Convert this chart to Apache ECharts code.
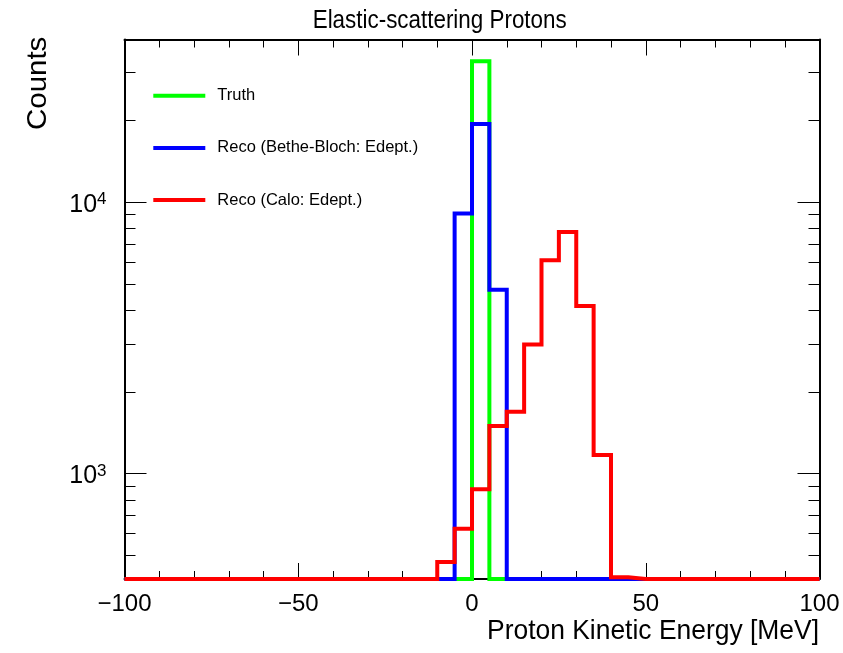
<!DOCTYPE html>
<html>
<head>
<meta charset="utf-8">
<script src="https://cdn.jsdelivr.net/npm/echarts@6/dist/echarts.min.js"></script>
<style>html,body{margin:0;padding:0;background:#fff}#c{width:843px;height:653px}</style>
</head>
<body>
<div id="c"></div>
<script>
// ---- data ----
const binEdges = [-100,-95,-90,-85,-80,-75,-70,-65,-60,-55,-50,-45,-40,-35,-30,-25,-20,-15,-10,-5,
                  0,5,10,15,20,25,30,35,40,45,50,55,60,65,70,75,80,85,90,95,100];
const truthCounts = [0,0,0,0,0,0,0,0,0,0,0,0,0,0,0,0,0,0,0,0,
                     33000,0,0,0,0,0,0,0,0,0,0,0,0,0,0,0,0,0,0,0];
const betheCounts = [0,0,0,0,0,0,0,0,0,0,0,0,0,0,0,0,0,0,0,9080,
                     19400,4750,0,0,0,0,0,0,0,0,0,0,0,0,0,0,0,0,0,0];
const caloCounts  = [0,0,0,0,0,0,0,0,0,0,0,0,0,0,0,0,0,0,472,626,
                     875,1496,1688,2990,6110,7750,4140,1170,415,0,0,0,0,0,0,0,0,0,0,0];
const seriesNames = ['Truth', 'Reco (Bethe-Bloch: Edept.)', 'Reco (Calo: Edept.)'];
const seriesColors = ['#00ff00', '#0000ff', '#ff0000'];
const xTickLabels = [-100, -50, 0, 50, 100];
const yMajorTicks = [1000, 10000];
const yMinorTicks = [500,600,700,800,900,2000,3000,4000,5000,6000,7000,8000,9000,20000,30000];
const titleText = 'Elastic-scattering Protons';
const xTitle = 'Proton Kinetic Energy [MeV]';
const yTitle = 'Counts';
const yMin = 408.7, yMax = 39700;

// ---- fonts ----
const FONT = "'Liberation Sans', Arial, sans-serif";
const cv = document.createElement('canvas').getContext('2d');
function tw(text, size) { cv.font = size + 'px ' + FONT; return cv.measureText(text).width; }
// condense factor so that text of given size spans target width
function squeeze(text, size, target) { return target / tw(text, size); }

// ---- build ----
function shown(v) { return v > yMin ? v : yMin; }
function steps(counts) {
  const d = [];
  for (let i = 0; i < counts.length; i++) d.push([binEdges[i], shown(counts[i])]);
  d.push([binEdges[counts.length], shown(counts[counts.length - 1])]);
  return d;
}
const allCounts = [truthCounts, betheCounts, caloCounts];

const black = '#000';
function xAx(pos, interval, len, labels, line) {
  return {
    type: 'value', position: pos, min: -100, max: 100, interval: interval,
    axisLine: {show: line, onZero: false, lineStyle: {color: black, width: 2}},
    axisTick: {show: true, inside: true, length: len, lineStyle: {color: black, width: 1}},
    axisLabel: labels ? {
      show: true, customValues: xTickLabels, margin: 25.5, verticalAlign: 'middle',
      fontFamily: FONT, fontSize: 24, color: black,
      formatter: v => v < 0 ? '\u2212' + (-v) : '' + v
    } : {show: false},
    splitLine: {show: false}
  };
}
function yAx(pos, vals, len, labels, line) {
  return {
    type: 'log', logBase: 10, position: pos, min: yMin, max: yMax,
    axisLine: {show: line, onZero: false, lineStyle: {color: black, width: 2}},
    axisTick: {show: true, inside: true, length: len, customValues: vals, lineStyle: {color: black, width: 1}},
    axisLabel: labels ? {
      show: true, customValues: vals, margin: 18, padding: [6, 0, 0, 0],
      formatter: v => '{b|10}{s|' + Math.round(Math.log10(v)) + '}',
      rich: {
        b: {fontFamily: FONT, fontSize: 25, lineHeight: 28, color: black},
        s: {fontFamily: FONT, fontSize: 17, lineHeight: 15, verticalAlign: 'top', color: black}
      }
    } : {show: false},
    splitLine: {show: false}
  };
}

const titleFs = 25.6, xTitleFs = 28, yTitleFs = 28;

const chart = echarts.init(document.getElementById('c'), null, {renderer: 'canvas'});
chart.setOption({
  animation: false,
  backgroundColor: '#fff',
  grid: {left: 124.5, right: 23.5, top: 39.5, bottom: 74},
  xAxis: [
    xAx('bottom', 50, 16, true, true),
    xAx('bottom', 10, 8, false, false),
    xAx('top', 50, 16, false, true),
    xAx('top', 10, 8, false, false)
  ],
  yAxis: [
    yAx('left', yMajorTicks, 22, true, true),
    yAx('left', yMinorTicks, 11, false, false),
    yAx('right', yMajorTicks, 22, false, true),
    yAx('right', yMinorTicks, 11, false, false)
  ],
  legend: {
    orient: 'vertical', left: 153.3, top: 85.7, padding: 0, itemGap: 32.2,
    itemWidth: 52, itemHeight: 4, icon: 'rect', selectedMode: false,
    data: seriesNames,
    textStyle: {fontFamily: FONT, fontSize: 16.5, color: black, lineHeight: 20, padding: [0, 0, 0, 7]}
  },
  graphic: [
    {type: 'text', x: 439.7, y: 21, silent: true, scaleX: squeeze(titleText, titleFs, 254),
     style: {text: titleText, fontFamily: FONT, fontSize: titleFs, fill: black,
             align: 'center', verticalAlign: 'middle', textAlign: 'center', textVerticalAlign: 'middle'}},
    {type: 'text', x: 819, y: 631.7, silent: true, scaleX: squeeze(xTitle, xTitleFs, 332),
     style: {text: xTitle, fontFamily: FONT, fontSize: xTitleFs, fill: black,
             align: 'right', verticalAlign: 'middle', textAlign: 'right', textVerticalAlign: 'middle'}},
    {type: 'text', x: 38.3, y: 36.7, rotation: Math.PI / 2, silent: true, scaleX: squeeze(yTitle, yTitleFs, 93.3),
     style: {text: yTitle, fontFamily: FONT, fontSize: yTitleFs, fill: black,
             align: 'right', verticalAlign: 'middle', textAlign: 'right', textVerticalAlign: 'middle'}}
  ],
  series: seriesNames.map((name, k) => ({
    name: name, type: 'line', step: 'end', xAxisIndex: 0, yAxisIndex: 0,
    data: steps(allCounts[k]), symbol: 'none', clip: false, silent: true,
    lineStyle: {color: seriesColors[k], width: 4, join: 'miter', cap: 'butt'},
    itemStyle: {color: seriesColors[k]}
  }))
});
</script>
</body>
</html>
